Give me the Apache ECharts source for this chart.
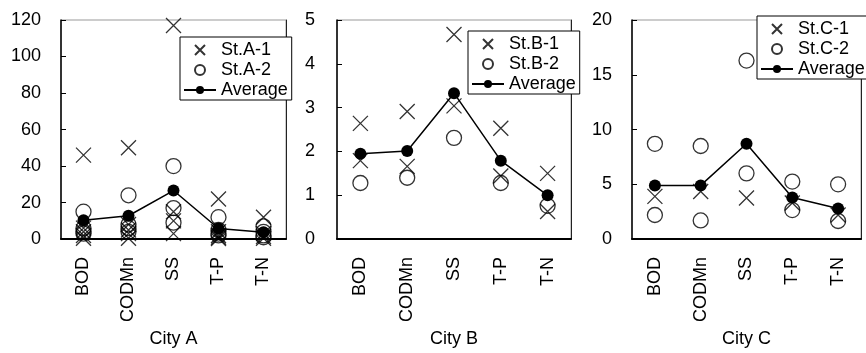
<!DOCTYPE html>
<html>
<head>
<meta charset="utf-8">
<script src="https://cdn.jsdelivr.net/npm/echarts@6/dist/echarts.min.js"></script>
<style>
html,body{margin:0;padding:0;background:#fff;}
#chart{width:866px;height:353px;}
</style>
</head>
<body>
<div id="chart"></div>
<script>
// ---- Data ----
const categories = ['BOD', 'CODMn', 'SS', 'T-P', 'T-N'];
const cityNames = ['City A', 'City B', 'City C'];

// City A (several samples per category)
const stA1 = [[46, 6, 4, 2, 0.5], [50, 8, 5, 3, 0.5], [117, 15, 10, 3], [22, 4, 2, 1, 0.3], [12, 3, 1.5, 0.5]];
const stA2 = [[15, 6, 4, 3], [24, 8, 6, 4], [40, 17, 9], [12, 5, 3, 2], [7, 4, 2, 1]];
const avgA = [10.3, 12.8, 26.6, 5.8, 3.8];

// City B
const stB1 = [[2.64, 1.79], [2.91, 1.66], [4.67, 3.04], [2.53, 1.44], [1.50, 0.63]];
const stB2 = [[1.28], [1.40], [2.31], [1.28], [0.76]];
const avgB = [1.95, 2.01, 3.33, 1.79, 1.00];

// City C
const stC1 = [[3.9], [4.35], [3.75], [3.3], [2.2]];
const stC2 = [[8.7, 2.2], [8.5, 1.7], [16.3, 6.0], [5.25, 2.65], [5.0, 1.65]];
const avgC = [4.9, 4.9, 8.7, 3.8, 2.8];

// y axis ticks
const yMax = [120, 5, 20];
const yInterval = [20, 1, 5];

// ---- Build ----
const FONT = 'Liberation Sans, Arial, sans-serif';
const FS = 18;
const grids = [
  {left: 61, top: 20, width: 225, height: 227},
  {left: 337, top: 20, width: 234, height: 227},
  {left: 632, top: 20, width: 229, height: 227}
];
const labelMargins = [20, 22, 20];
const nameGaps = [84, 78, 84];

function flatten(arr) {
  const out = [];
  arr.forEach((vals, ci) => vals.forEach(v => out.push([ci, v])));
  return out;
}

const xSym = 'path://M0,0L10,10M10,0L0,10';

const stations = [[stA1, stA2, avgA, 'St.A-1', 'St.A-2'],
                  [stB1, stB2, avgB, 'St.B-1', 'St.B-2'],
                  [stC1, stC2, avgC, 'St.C-1', 'St.C-2']];

const xAxes = [], yAxes = [], series = [], legends = [];
const legendPos = [{left: 180, top: 37}, {left: 468, top: 31}, {left: 757, top: 16}];

stations.forEach((s, i) => {
  xAxes.push({
    type: 'category', gridIndex: i, data: categories, boundaryGap: true,
    name: cityNames[i], nameLocation: 'middle', nameGap: nameGaps[i],
    nameTextStyle: {fontSize: FS, color: '#000', fontFamily: FONT},
    axisLine: {lineStyle: {color: '#000', width: 2}},
    axisTick: {inside: true, length: 5, lineStyle: {color: '#000', width: 1}},
    axisLabel: {rotate: 90, margin: 18, fontSize: FS, color: '#000', fontFamily: FONT},
    splitLine: {show: false}
  });
  yAxes.push({
    type: 'value', gridIndex: i, min: 0, max: yMax[i], interval: yInterval[i],
    axisLine: {show: true, lineStyle: {color: '#000', width: 1.5}},
    axisTick: {show: true, inside: true, length: 5, lineStyle: {color: '#000'}},
    axisLabel: {margin: labelMargins[i], fontSize: FS, color: '#000', fontFamily: FONT},
    splitLine: {show: false}
  });
  yAxes.push({
    type: 'value', gridIndex: i, min: 0, max: yMax[i], interval: yInterval[i], position: 'right',
    axisLine: {show: true, lineStyle: {color: '#222', width: 1}},
    axisTick: {show: false}, axisLabel: {show: false}, splitLine: {show: false}
  });
  series.push({
    name: s[3], type: 'scatter', xAxisIndex: i, yAxisIndex: 2 * i,
    data: flatten(s[0]), symbol: xSym, symbolSize: 15,
    itemStyle: {color: 'none', borderColor: '#000', borderWidth: 1.3},
    emphasis: {disabled: true}, z: 3
  });
  series.push({
    name: s[4], type: 'scatter', xAxisIndex: i, yAxisIndex: 2 * i,
    data: flatten(s[1]), symbol: 'circle', symbolSize: 15,
    itemStyle: {color: 'transparent', borderColor: '#000', borderWidth: 1.3},
    emphasis: {disabled: true}, z: 3
  });
  series.push({
    name: 'Average', type: 'line', xAxisIndex: i, yAxisIndex: 2 * i,
    data: s[2], symbol: 'circle', symbolSize: 12, showSymbol: true,
    lineStyle: {color: '#000', width: 1.5},
    itemStyle: {color: '#000', borderColor: '#000', borderWidth: 0},
    emphasis: {disabled: true}, z: 4
  });
  legends.push(Object.assign({
    orient: 'vertical', backgroundColor: '#fff', borderColor: '#000', borderWidth: 1,
    borderRadius: 0, padding: [4, 4, 1, 3], itemGap: 2, itemWidth: 32, itemHeight: 10,
    textStyle: {fontSize: FS, color: '#000', fontFamily: FONT, lineHeight: 18},
    selectedMode: false, z: 10,
    data: [s[3], s[4], 'Average']
  }, legendPos[i]));
});

const chart = echarts.init(document.getElementById('chart'), null, {renderer: 'canvas'});
chart.setOption({
  animation: false,
  backgroundColor: '#fff',
  grid: grids.map(g => Object.assign({show: true, borderColor: '#999', borderWidth: 1, backgroundColor: 'transparent'}, g)),
  xAxis: xAxes,
  yAxis: yAxes,
  legend: legends,
  series: series
});
</script>
</body>
</html>
